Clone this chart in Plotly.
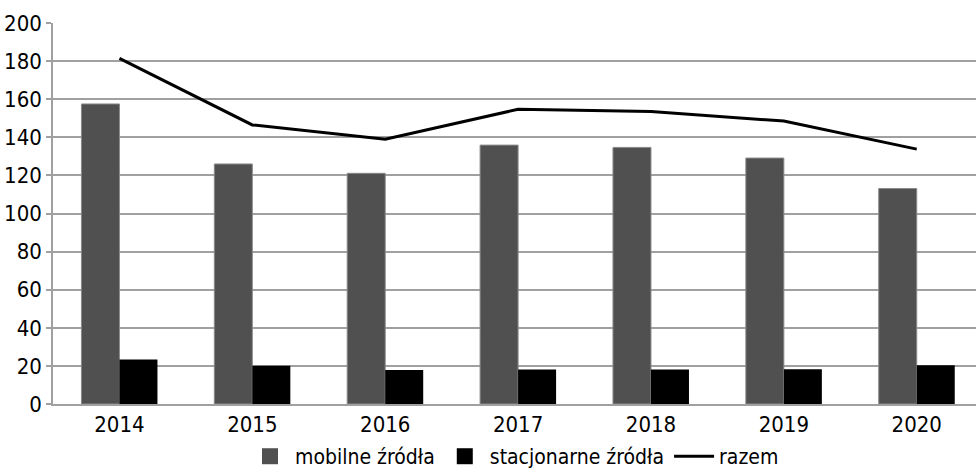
import plotly.graph_objects as go

years = ["2014", "2015", "2016", "2017", "2018", "2019", "2020"]
mobilne = [157.5, 126.0, 121.1, 135.9, 134.7, 129.1, 113.1]
stacjonarne = [23.4, 20.1, 17.8, 18.1, 18.1, 18.3, 20.4]
razem = [181.4, 146.5, 139.0, 154.7, 153.5, 148.5, 133.8]
y_ticks = [0, 20, 40, 60, 80, 100, 120, 140, 160, 180, 200]

FONT = "DejaVu Sans Condensed, Roboto, sans-serif"
GRAY = "#505050"

fig = go.Figure()
fig.add_trace(go.Bar(x=years, y=mobilne, name="mobilne źródła", showlegend=False,
                     marker=dict(color=GRAY, line=dict(color="#8a8a8a", width=1))))
fig.add_trace(go.Bar(x=years, y=stacjonarne, name="stacjonarne źródła", showlegend=False,
                     marker=dict(color="#000000", line=dict(color="#000000", width=0))))
# legend entries with larger square swatches
fig.add_trace(go.Scatter(x=[None], y=[None], name="mobilne źródła", mode="markers",
                         marker=dict(symbol="square", size=16, color=GRAY)))
fig.add_trace(go.Scatter(x=[None], y=[None], name="stacjonarne źródła", mode="markers",
                         marker=dict(symbol="square", size=16, color="#000000")))
fig.add_trace(go.Scatter(x=years, y=razem, name="razem", mode="lines",
                         line=dict(color="#000000", width=3)))

fig.update_layout(
    width=976, height=471,
    margin=dict(l=53, r=0, t=23, b=67, autoexpand=False),
    paper_bgcolor="white", plot_bgcolor="white",
    font=dict(family=FONT, size=22, color="#000000"),
    barmode="group", bargap=0.428, bargroupgap=0,
    showlegend=True,
    legend=dict(orientation="h", x=0.5, xanchor="center", y=-0.138, yanchor="middle",
                font=dict(size=21), itemwidth=40, itemsizing="trace", traceorder="normal"),
)
fig.update_xaxes(type="category", range=[-0.5, 6.446], showgrid=False,
                 showline=True, linecolor="#a0a0a0", linewidth=1.5,
                 ticks="", tickfont=dict(size=22), automargin=False)
fig.update_yaxes(range=[0, 200], tickvals=y_ticks, showgrid=True,
                 gridcolor="#a0a0a0", gridwidth=1.5, zeroline=False,
                 showline=True, linecolor="#a0a0a0", linewidth=1.5,
                 ticks="outside", ticklen=5, tickcolor="#a0a0a0", tickwidth=1.5,
                 tickfont=dict(size=22), automargin=False)

fig.write_html("out.html", config={"displayModeBar": False},
               post_script="document.body.style.margin='0';document.body.style.padding='0';")
